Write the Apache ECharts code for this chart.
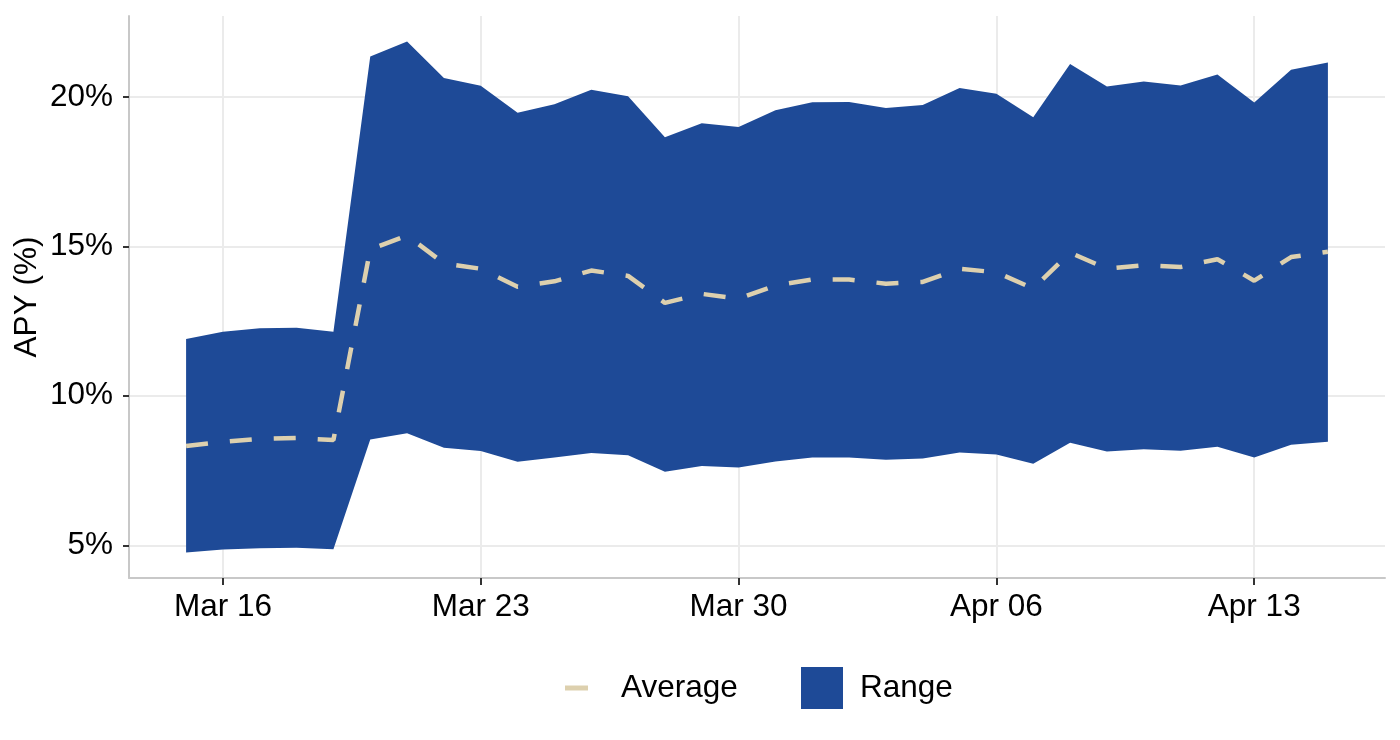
<!DOCTYPE html>
<html>
<head>
<meta charset="utf-8">
<script src="https://cdn.jsdelivr.net/npm/echarts@6/dist/echarts.min.js"></script>
<style>
html,body{margin:0;padding:0;background:#fff;}
#chart{width:1400px;height:740px;}
</style>
</head>
<body>
<div id="chart"></div>
<script>
const dates = ['2025-03-15','2025-03-16','2025-03-17','2025-03-18','2025-03-19','2025-03-20','2025-03-21','2025-03-22','2025-03-23','2025-03-24','2025-03-25','2025-03-26','2025-03-27','2025-03-28','2025-03-29','2025-03-30','2025-03-31','2025-04-01','2025-04-02','2025-04-03','2025-04-04','2025-04-05','2025-04-06','2025-04-07','2025-04-08','2025-04-09','2025-04-10','2025-04-11','2025-04-12','2025-04-13','2025-04-14','2025-04-15'];
const upper = [11.90,12.14,12.26,12.28,12.14,21.35,21.85,20.63,20.37,19.47,19.75,20.24,20.02,18.65,19.12,18.99,19.55,19.82,19.83,19.63,19.73,20.30,20.10,19.32,21.10,20.35,20.51,20.38,20.75,19.81,20.91,21.15];
const lower = [4.76,4.86,4.90,4.92,4.87,8.54,8.75,8.26,8.15,7.79,7.94,8.09,8.01,7.46,7.65,7.60,7.80,7.94,7.94,7.86,7.90,8.10,8.04,7.73,8.43,8.14,8.21,8.16,8.30,7.94,8.36,8.46];
const average = [8.32,8.46,8.56,8.59,8.52,14.90,15.36,14.43,14.25,13.65,13.83,14.19,14.01,13.11,13.41,13.25,13.69,13.89,13.89,13.75,13.81,14.25,14.13,13.59,14.79,14.25,14.37,14.31,14.57,13.85,14.64,14.82];
const xTicks = ['2025-03-16','2025-03-23','2025-03-30','2025-04-06','2025-04-13'];
const yTicks = [5,10,15,20];
const seriesNames = ['Average','Range'];

const MONTHS = ['Jan','Feb','Mar','Apr','May','Jun','Jul','Aug','Sep','Oct','Nov','Dec'];
function toTs(s){const p=s.split('-').map(Number);return new Date(p[0],p[1]-1,p[2]).getTime();}
function fmtDate(v){const d=new Date(v);return MONTHS[d.getMonth()]+' '+String(d.getDate()).padStart(2,'0');}

const ts = dates.map(toTs);
const xTickTs = xTicks.map(toTs);
const xSpan = ts[ts.length-1]-ts[0];
const xMin = ts[0]-0.05*xSpan, xMax = ts[ts.length-1]+0.05*xSpan;
const yLo = Math.min.apply(null, lower), yHi = Math.max.apply(null, upper);
const ySpan = yHi - yLo;
const yMin = yLo-0.05*ySpan, yMax = yHi+0.05*ySpan;

const FONT = '"Liberation Sans", Arial, Helvetica, sans-serif';
const BLUE = '#1E4A97';
const BEIGE = '#DDD0AE';
const FS = 31.5;

const rangeData = ts.map((t,i)=>[t, lower[i], upper[i]]);

function renderRange(params, api){
  if (params.dataIndex !== 0) return null;
  const pts = [];
  for (let i = 0; i < rangeData.length; i++) pts.push(api.coord([rangeData[i][0], rangeData[i][2]]));
  for (let i = rangeData.length-1; i >= 0; i--) pts.push(api.coord([rangeData[i][0], rangeData[i][1]]));
  return {type:'polygon', shape:{points:pts}, style:{fill:BLUE, stroke:null}, silent:true};
}

const chart = echarts.init(document.getElementById('chart'), null, {renderer:'canvas'});
chart.setOption({
  animation:false,
  backgroundColor:'#ffffff',
  textStyle:{fontFamily:FONT},
  grid:{left:129,right:15,top:16,bottom:162,containLabel:false},
  legend:[
    {data:[seriesNames[0]],left:565,top:672,padding:0,icon:'rect',itemWidth:23,itemHeight:5,
     itemStyle:{borderWidth:0},
     textStyle:{fontSize:FS,color:'#000',fontFamily:FONT,padding:[0,0,0,28]},selectedMode:false},
    {data:[seriesNames[1]],left:801,top:667,padding:0,icon:'rect',itemWidth:42,itemHeight:42,
     itemStyle:{borderWidth:0},
     textStyle:{fontSize:FS,color:'#000',fontFamily:FONT,padding:[0,0,0,12]},selectedMode:false}
  ],
  xAxis:{
    type:'value',min:xMin,max:xMax,scale:true,
    axisLine:{show:true,onZero:false,lineStyle:{color:'#c8c8c8',width:2}},
    axisTick:{show:true,length:7,customValues:xTickTs,lineStyle:{color:'#333',width:2}},
    axisLabel:{customValues:xTickTs,formatter:function(v){return fmtDate(v);},fontSize:FS,color:'#000',fontFamily:FONT,margin:13},
    splitLine:{show:true,customValues:xTickTs,lineStyle:{color:'#ebebeb',width:2}}
  },
  yAxis:{
    type:'value',min:yMin,max:yMax,
    name:'APY (%)',nameLocation:'middle',nameGap:86,nameRotate:90,nameMoveOverlap:false,
    nameTextStyle:{fontSize:FS,color:'#000',fontFamily:FONT},
    axisLine:{show:true,onZero:false,lineStyle:{color:'#c8c8c8',width:2}},
    axisTick:{show:true,length:6,customValues:yTicks,lineStyle:{color:'#333',width:2}},
    axisLabel:{customValues:yTicks,formatter:function(v){return v+'%';},fontSize:FS,color:'#000',fontFamily:FONT,margin:16},
    splitLine:{show:true,customValues:yTicks,lineStyle:{color:'#ebebeb',width:2}}
  },
  series:[
    {name:seriesNames[1],type:'custom',renderItem:renderRange,data:rangeData,
     encode:{x:0,y:[1,2]},itemStyle:{color:BLUE},silent:true,z:2},
    {name:seriesNames[0],type:'line',symbol:'none',silent:true,
     data:ts.map((t,i)=>[t,average[i]]),
     itemStyle:{color:BEIGE},
     lineStyle:{color:BEIGE,width:4.5,type:[22,22],cap:'butt'},z:3}
  ]
});
</script>
</body>
</html>
